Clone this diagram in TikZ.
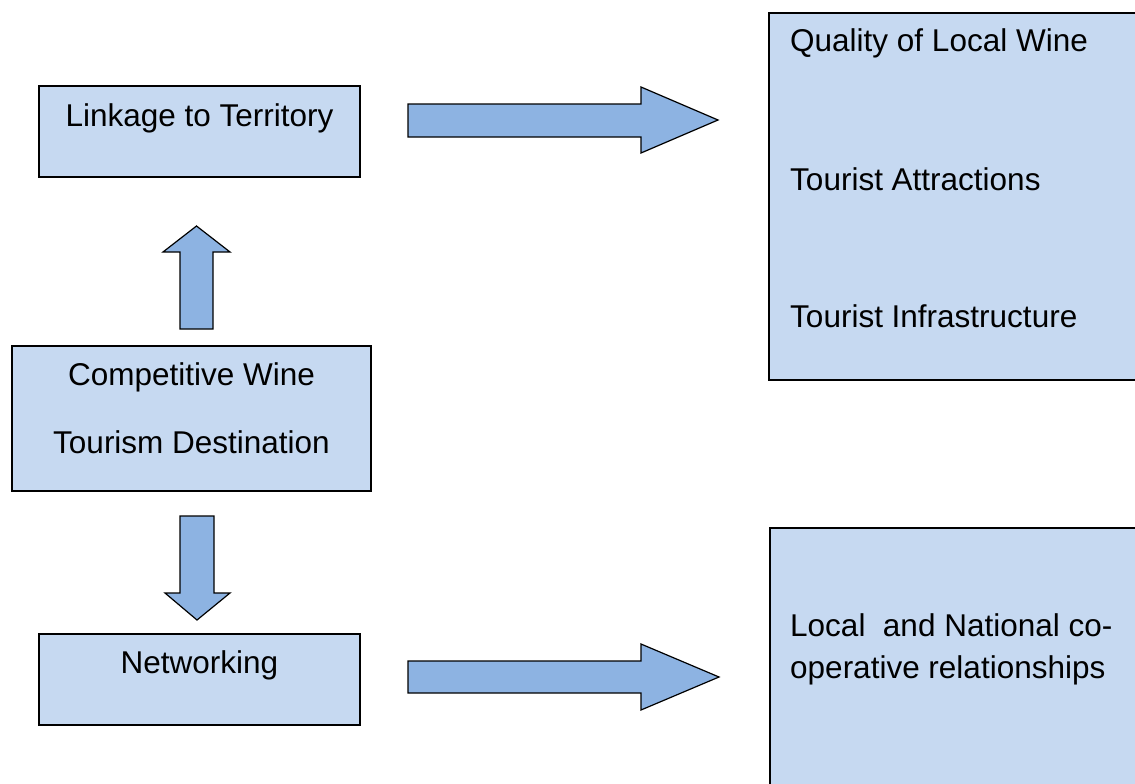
\documentclass[tikz,border=0pt]{standalone}
\usepackage{fontspec}
\setmainfont{Liberation Sans}
\definecolor{boxblue}{HTML}{C6D9F1}
\definecolor{arrowblue}{HTML}{8DB3E2}
\tikzset{
	box/.style = {draw, line width=2pt, fill=boxblue, rectangle, inner sep=0pt, anchor=north west},
	label/.style = {inner sep=0pt, font=\fontsize{31.5}{37}\selectfont},
	blockarrow/.style = {draw, line width=1.2pt, fill=arrowblue, line join=miter}
}
\begin{document}
\begin{tikzpicture}[x=1pt, y=-1pt]
	\useasboundingbox (0,0) rectangle (1135,784);

	% left column
	\node[box, minimum width=321pt, minimum height=91pt] (link) at (38,85) {};
	\node[box, minimum width=359pt, minimum height=145pt] (comp) at (11,345) {};
	\node[box, minimum width=321pt, minimum height=91pt] (net) at (38,633) {};

	\node[label, anchor=base] (linktxt) at ([yshift=-41pt]link.north) {Linkage to Territory};
	\node[label, anchor=base] (comptxta) at ([yshift=-40pt]comp.north) {Competitive Wine};
	\node[label, anchor=base] (comptxtb) at ([yshift=-108pt]comp.north) {Tourism Destination};
	\node[label, anchor=base] (nettxt) at ([yshift=-40pt]net.north) {Networking};

	% right column
	\node[box, minimum width=380pt, minimum height=367pt] (factors) at (768,12) {};
	\node[box, minimum width=380pt, minimum height=270pt] (coop) at (769,527) {};

	\node[label, anchor=base west] (quality) at (790,52) {Quality of Local Wine};
	\node[label, anchor=base west] (attract) at (790,190) {Tourist Attractions};
	\node[label, anchor=base west] (infra) at (790,327) {Tourist Infrastructure};
	\node[label, anchor=base west] (cooptxta) at (790,636) {Local\ \ and National co-};
	\node[label, anchor=base west] (cooptxtb) at (790,678) {operative relationships};

	% block arrows
	\draw[blockarrow] (180,329) -- (180,252) -- (163,252) -- (196.5,226) -- (230,252) -- (213,252) -- (213,329) -- cycle;
	\draw[blockarrow] (180,516) -- (180,593) -- (165,593) -- (197,620) -- (230,593) -- (214,593) -- (214,516) -- cycle;
	\draw[blockarrow] (408,104) -- (641,104) -- (641,87) -- (718,120) -- (641,153) -- (641,137) -- (408,137) -- cycle;
	\draw[blockarrow] (408,661) -- (641,661) -- (641,644) -- (719,677) -- (641,710) -- (641,693) -- (408,693) -- cycle;
\end{tikzpicture}
\end{document}
